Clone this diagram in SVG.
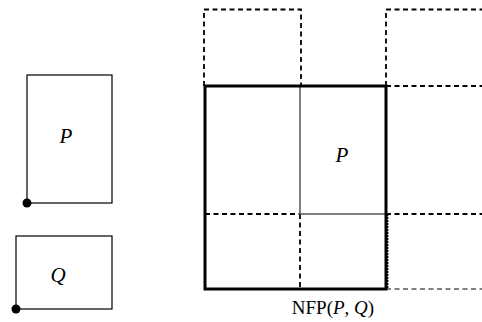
<svg xmlns="http://www.w3.org/2000/svg" width="482" height="322" viewBox="0 0 482 322">
<style>
.thin{fill:none;stroke:#000;stroke-width:1.2}
.thick{fill:none;stroke:#000;stroke-width:3}
.inner{fill:none;stroke:#555;stroke-width:1.5}
.dash{fill:none;stroke:#000;stroke-width:1.8;stroke-dasharray:5,3.5}
.lbl{font-family:"Liberation Serif",serif;font-size:21px;font-style:italic;text-anchor:middle}
.cap{font-family:"Liberation Serif",serif;font-size:19px;text-anchor:middle}
</style>
<rect width="482" height="322" fill="#fff"/>
<g id="P">
<rect class="thin" x="27" y="75" width="85" height="128"/>
<circle cx="27" cy="203" r="4.5"/>
<text class="lbl" x="66" y="143">P</text>
</g>
<g id="Q">
<rect class="thin" x="16" y="236" width="96" height="73"/>
<circle cx="16" cy="309" r="4.5"/>
<text class="lbl" x="58" y="282">Q</text>
</g>
<g id="connectors">
<path class="dash" d="M204,86 V9.5 H301 V86"/>
<path class="dash" d="M386,86 V9.5 H482"/>
<path class="dash" d="M386,86 H482"/>
<path class="dash" d="M386,214 H482"/>
<path class="dash" d="M386,289 H482" style="stroke-width:1"/>
<path class="dash" d="M387.5,214 V289" style="stroke-dasharray:2,1"/>
<path class="dash" d="M205,214 H300"/>
<path class="dash" d="M300,214 V289"/>
</g>
<g id="Pinner">
<rect class="inner" x="300" y="86" width="86" height="128"/>
<text class="lbl" x="342" y="162">P</text>
</g>
<g id="NFP">
<rect class="thick" x="205" y="86" width="181" height="203"/>
<text class="cap" x="333" y="314">NFP(<tspan font-style="italic">P</tspan>, <tspan font-style="italic">Q</tspan>)</text>
</g>
</svg>
